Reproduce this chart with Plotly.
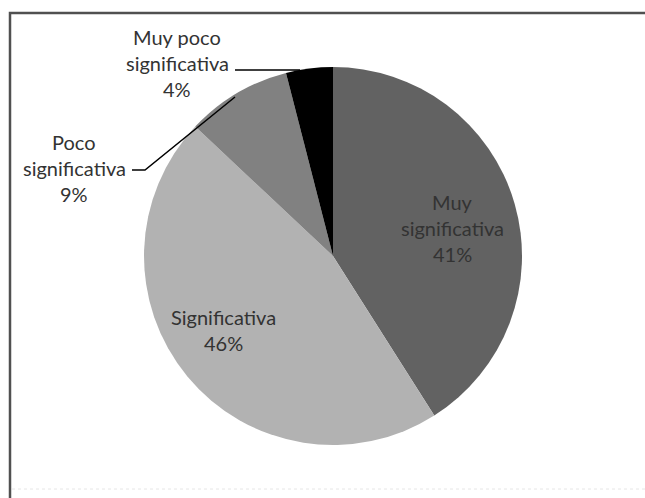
import plotly.graph_objects as go

W, H = 645, 498

categories = ["Muy significativa", "Significativa", "Poco significativa", "Muy poco significativa"]
values = [41, 46, 9, 4]
colors = ["#626262", "#b2b2b2", "#818181", "#000000"]
# label lines as displayed in the chart
label_lines = [["Muy", "significativa"], ["Significativa"], ["Poco", "significativa"], ["Muy poco", "significativa"]]
# label centres (reference pixels from top-left)
label_pos = [(452, 228), (223, 330), (74, 168), (177, 63)]


def px(x):
    return x / W


def py(y):
    return 1 - y / H


cx, cy, r = 333, 256, 189

fig = go.Figure(go.Pie(
    labels=categories,
    values=values,
    sort=False,
    direction="clockwise",
    rotation=0,
    marker=dict(colors=colors, line=dict(width=0)),
    textinfo="none",
    hoverinfo="label+percent",
    showlegend=False,
    domain=dict(x=[px(cx - r), px(cx + r)], y=[py(cy + r), py(cy - r)]),
))

annotations = []
total = sum(values)
LS = 26
for lines, v, (lx, ly) in zip(label_lines, values, label_pos):
    all_lines = lines + [f"{round(100 * v / total)}%"]
    n = len(all_lines)
    for i, t in enumerate(all_lines):
        yy = ly + (i - (n - 1) / 2) * LS
        annotations.append(dict(
            x=px(lx), y=py(yy), xref="paper", yref="paper",
            text=t, showarrow=False, xanchor="center", yanchor="middle",
            font=dict(family="Lato", size=20, color="#333333"),
        ))

shapes = [
    # frame
    dict(type="path", xref="paper", yref="paper",
         path=f"M {px(10)},0 L {px(10)},{py(13)} L {px(645.5)},{py(13)}",
         line=dict(color="#505050", width=2.5)),
    dict(type="line", xref="paper", yref="paper", x0=px(12), y0=py(489), x1=px(645), y1=py(489),
         line=dict(color="#e6e6e6", width=1, dash="dot")),
    # leader line: Poco significativa
    dict(type="path", xref="paper", yref="paper",
         path=f"M {px(132)},{py(170)} L {px(145)},{py(170)} L {px(235)},{py(97)}",
         line=dict(color="#000000", width=1.5)),
    # leader line: Muy poco significativa
    dict(type="line", xref="paper", yref="paper", x0=px(235), y0=py(70), x1=px(300), y1=py(70),
         line=dict(color="#000000", width=1.5)),
]

fig.update_layout(
    width=W, height=H,
    margin=dict(l=0, r=0, t=0, b=0),
    paper_bgcolor="white",
    plot_bgcolor="white",
    annotations=annotations,
    shapes=shapes,
)

fig.write_html(
    "out.html",
    config={"displayModeBar": False},
    post_script=(
        "document.body.style.margin='0';document.body.style.overflow='hidden';"
        "document.documentElement.style.overflow='hidden';"
    ),
)
